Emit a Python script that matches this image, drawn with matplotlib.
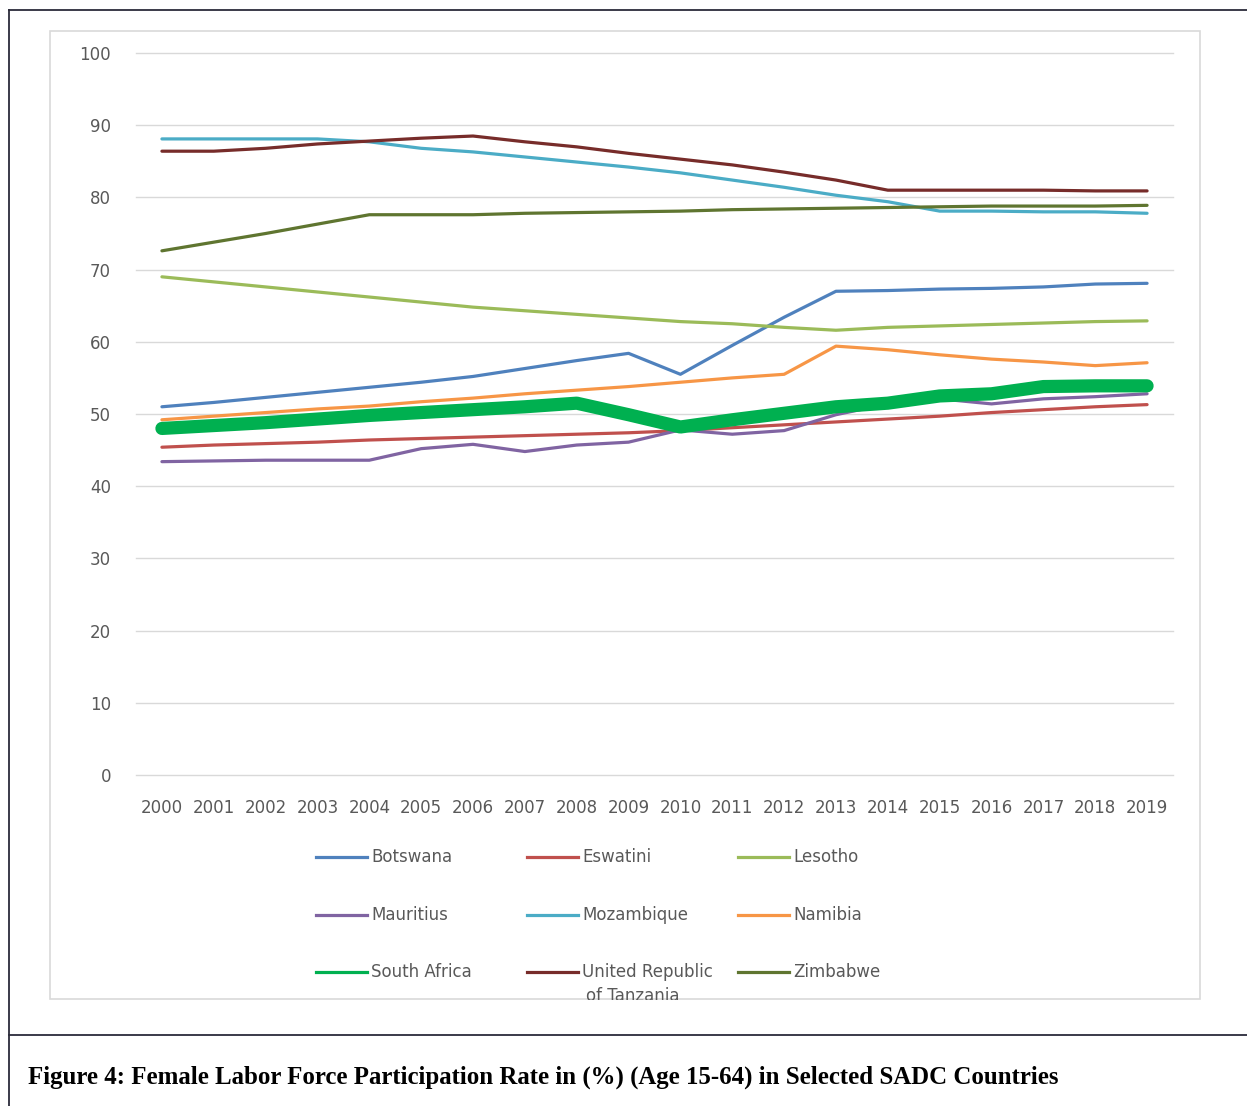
import numpy as np
import matplotlib
matplotlib.use("Agg")
import matplotlib.pyplot as plt
from matplotlib.lines import Line2D
from matplotlib.patches import Rectangle

# datos
years = list(range(2000, 2020))

botswana = [51.0, 51.6, 52.3, 53.0, 53.7, 54.4, 55.2, 56.3, 57.4, 58.4,
            55.5, 59.5, 63.4, 67.0, 67.1, 67.3, 67.4, 67.6, 68.0, 68.1]
eswatini = [45.4, 45.7, 45.9, 46.1, 46.4, 46.6, 46.8, 47.0, 47.2, 47.4,
            47.7, 48.1, 48.5, 48.9, 49.3, 49.7, 50.2, 50.6, 51.0, 51.3]
lesotho = [69.0, 68.3, 67.6, 66.9, 66.2, 65.5, 64.8, 64.3, 63.8, 63.3,
           62.8, 62.5, 62.0, 61.6, 62.0, 62.2, 62.4, 62.6, 62.8, 62.9]
mauritius = [43.4, 43.5, 43.6, 43.6, 43.6, 45.2, 45.8, 44.8, 45.7, 46.1,
             47.8, 47.2, 47.7, 49.9, 51.4, 52.1, 51.4, 52.1, 52.4, 52.8]
mozambique = [88.1, 88.1, 88.1, 88.1, 87.7, 86.8, 86.3, 85.6, 84.9, 84.2,
              83.4, 82.4, 81.4, 80.3, 79.4, 78.1, 78.1, 78.0, 78.0, 77.8]
namibia = [49.2, 49.7, 50.2, 50.7, 51.1, 51.7, 52.2, 52.8, 53.3, 53.8,
           54.4, 55.0, 55.5, 59.4, 58.9, 58.2, 57.6, 57.2, 56.7, 57.1]
south_africa = [48.0, 48.4, 48.8, 49.3, 49.8, 50.2, 50.6, 51.0, 51.5, 49.9,
                48.2, 49.2, 50.1, 51.0, 51.5, 52.5, 52.8, 53.8, 53.9, 53.9]
tanzania = [86.4, 86.4, 86.8, 87.4, 87.8, 88.2, 88.5, 87.7, 87.0, 86.1,
            85.3, 84.5, 83.5, 82.4, 81.0, 81.0, 81.0, 81.0, 80.9, 80.9]
zimbabwe = [72.6, 73.8, 75.0, 76.3, 77.6, 77.6, 77.6, 77.8, 77.9, 78.0,
            78.1, 78.3, 78.4, 78.5, 78.6, 78.7, 78.8, 78.8, 78.8, 78.9]

names = ["Botswana", "Eswatini", "Lesotho", "Mauritius", "Mozambique",
         "Namibia", "South Africa", "United Republic\nof Tanzania", "Zimbabwe"]
series = [botswana, eswatini, lesotho, mauritius, mozambique,
          namibia, south_africa, tanzania, zimbabwe]
colors = ["#4F81BD", "#C0504D", "#9BBB59", "#8064A2", "#4BACC6",
          "#F79646", "#00B050", "#772C2A", "#5F7530"]

gris = "#595959"

fig = plt.figure(figsize=(12.47, 11.06), dpi=100)
ax = fig.add_axes([136 / 1247, 1 - 775 / 1106, 1037 / 1247, 722 / 1106])

x = np.arange(len(years))
for i, (nombre, datos, c) in enumerate(zip(names, series, colors)):
    if nombre == "South Africa":
        continue
    ax.plot(x, datos, color=c, lw=2.3, solid_capstyle="round",
            solid_joinstyle="round", zorder=3)
# south africa va encima y mas gruesa
ax.plot(x, south_africa, color="#00B050", lw=9.5, solid_capstyle="round",
        solid_joinstyle="round", zorder=4)

ax.set_xlim(-0.5, len(years) - 0.5)
ax.set_ylim(0, 100)
ax.set_yticks(range(0, 101, 10))
ax.set_xticks(x)
ax.set_xticklabels([str(a) for a in years])
ax.grid(axis="y", color="#D9D9D9", lw=1.0)
for g in ax.get_ygridlines():
    g.set_clip_on(False)
ax.set_axisbelow(True)
for s in ax.spines.values():
    s.set_visible(False)
ax.tick_params(axis="y", length=0, pad=18, labelsize=12, labelcolor=gris)
ax.tick_params(axis="x", length=0, pad=17, labelsize=12, labelcolor=gris)

# marco del area del grafico
fig.add_artist(Rectangle((50 / 1247, 1 - 999 / 1106), 1150 / 1247, 968 / 1106,
                         transform=fig.transFigure, fill=False,
                         edgecolor="#D9D9D9", lw=1.2))

# leyenda manual (3 columnas como en excel)
col_x = [316, 527, 738]
row_y = [857, 915, 972]
for i, (nombre, c) in enumerate(zip(names, colors)):
    fila, col = i // 3, i % 3
    x0 = col_x[col]
    y0 = row_y[fila]
    fig.add_artist(Line2D([x0 / 1247, (x0 + 51) / 1247],
                          [1 - y0 / 1106, 1 - y0 / 1106],
                          transform=fig.transFigure, color=c, lw=2.3))
    lineas = nombre.split("\n")
    fig.text((x0 + 55) / 1247, 1 - y0 / 1106, lineas[0], fontsize=12,
             color=gris, va="center", ha="left")
    if len(lineas) > 1:
        fig.text((x0 + 59) / 1247, 1 - (y0 + 24) / 1106, lineas[1],
                 fontsize=12, color=gris, va="center", ha="left", zorder=1)

# tapa la parte cortada de "of Tanzania"
fig.add_artist(Rectangle((300 / 1247, 1 - 1033 / 1106), 800 / 1247, 33 / 1106,
                         transform=fig.transFigure, facecolor="white",
                         edgecolor="none", zorder=5))

# bordes del documento
borde = "#2B2B3A"
fig.add_artist(Line2D([9 / 1247, 1], [1 - 10 / 1106, 1 - 10 / 1106],
                      transform=fig.transFigure, color=borde, lw=1.3, zorder=6))
fig.add_artist(Line2D([9 / 1247, 9 / 1247], [0, 1 - 10 / 1106],
                      transform=fig.transFigure, color=borde, lw=1.3, zorder=6))
fig.add_artist(Line2D([9 / 1247, 1], [1 - 1035 / 1106, 1 - 1035 / 1106],
                      transform=fig.transFigure, color=borde, lw=1.3, zorder=6))

fig.text(28 / 1247, 1 - 1077 / 1106,
         "Figure 4: Female Labor Force Participation Rate in (%) (Age 15-64) in Selected SADC Countries",
         fontsize=17.9, fontweight="bold", family="Liberation Serif",
         va="center", ha="left", color="black")

fig.savefig("out.png", dpi=100, facecolor="white")
